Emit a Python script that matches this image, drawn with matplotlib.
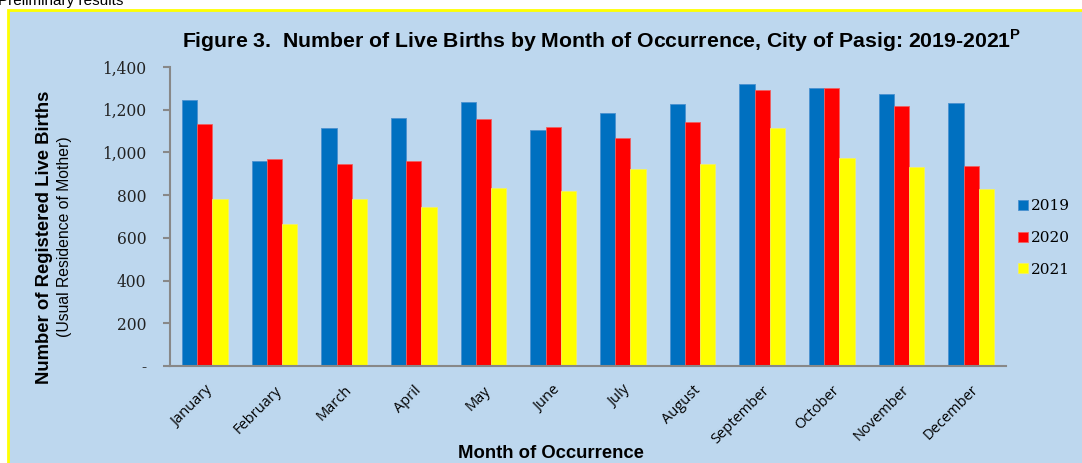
import numpy as np
import matplotlib
matplotlib.use("Agg")
import matplotlib.pyplot as plt
from matplotlib.patches import Rectangle
from matplotlib.ticker import FuncFormatter

months = ["January", "February", "March", "April", "May", "June", "July",
          "August", "September", "October", "November", "December"]
births_2019 = [1245, 959, 1115, 1161, 1236, 1105, 1184, 1227, 1321, 1300, 1272, 1233]
births_2020 = [1134, 967, 948, 959, 1155, 1119, 1066, 1142, 1291, 1302, 1217, 936]
births_2021 = [782, 665, 782, 745, 832, 818, 923, 944, 1113, 973, 931, 828]
years = ["2019", "2020", "2021"]
y_ticks = [0, 200, 400, 600, 800, 1000, 1200, 1400]

colors = ["#0070C0", "#FF0000", "#FFFF00"]
edges = ["#4A90CF", "#F06060", "#F5F060"]
bg = "#BDD7EE"

plt.rcParams["mathtext.fontset"] = "custom"
plt.rcParams["mathtext.bf"] = "Liberation Sans:bold"
plt.rcParams["mathtext.rm"] = "Liberation Sans"

fig = plt.figure(figsize=(10.82, 4.63), dpi=100)
fig.patch.set_facecolor("white")

# framed light blue panel behind everything
W, H = 1082, 463
fig.patches.append(Rectangle((8 / W, -0.1), 1.2, 1 - 10 / H + 0.1,
                             transform=fig.transFigure, facecolor=bg,
                             edgecolor="#FFFF00", linewidth=2, zorder=-5))
fig.text(123 / W, 1 - 5 / H, "Preliminary results", ha="right", va="baseline",
         fontsize=11, family="Liberation Sans")

ax = fig.add_axes([170 / W, 1 - 366 / H, 836 / W, 299 / H])
ax.set_facecolor("none")
ax.set_zorder(2)

x = np.arange(len(months))
w = 0.22
for i, vals in enumerate([births_2019, births_2020, births_2021]):
    ax.bar(x + (i - 1) * w, vals, width=w, color=colors[i], edgecolor=edges[i],
           linewidth=0.6, label=years[i], zorder=2)

ax.set_xlim(-0.5, 11.5)
ax.set_ylim(0, 1400)
ax.set_yticks(y_ticks)
ax.yaxis.set_major_formatter(FuncFormatter(lambda v, p: "-" if v == 0 else f"{int(v):,}"))
ax.tick_params(axis="y", length=5, color="#888888", width=1.5, pad=12)
for lab in ax.get_yticklabels():
    lab.set_family("DejaVu Serif")
    lab.set_fontsize(11.2)
    lab.set_color("#222222")

ax.set_xticks(x)
ax.set_xticklabels(months, rotation=45, ha="right", rotation_mode="anchor",
                   family="Open Sans", fontsize=10.5)
ax.tick_params(axis="x", length=0, pad=12)

for s in ["top", "right"]:
    ax.spines[s].set_visible(False)
for s in ["left", "bottom"]:
    ax.spines[s].set_color("#888888")
    ax.spines[s].set_linewidth(1.5)

fig.text(602 / W, 1 - 41 / H,
         r"Figure 3.  Number of Live Births by Month of Occurrence, City of Pasig: 2019-2021$^{\mathbf{P}}$",
         ha="center", va="center", fontsize=15.3, fontweight="bold", family="Liberation Sans")
fig.text(551 / W, 1 - 453 / H, "Month of Occurrence", ha="center", va="center",
         fontsize=13.3, fontweight="bold", family="Liberation Sans")
fig.text(45 / W, 1 - 237 / H, "Number of Registered Live Births", rotation=90,
         ha="center", va="center", fontsize=13.3, fontweight="bold", family="Liberation Sans")
fig.text(65 / W, 1 - 237 / H, "(Usual Residence of Mother)", rotation=90,
         ha="center", va="center", fontsize=11.3, family="Liberation Sans")

leg = fig.legend(loc="center left", bbox_to_anchor=(1004 / W, 1 - 238 / H),
                 frameon=False, handlelength=0.65, handleheight=0.65,
                 handletextpad=0.2, labelspacing=1.15,
                 prop={"family": "DejaVu Serif", "size": 11})

fig.savefig("out.png", dpi=100, facecolor=fig.get_facecolor())
